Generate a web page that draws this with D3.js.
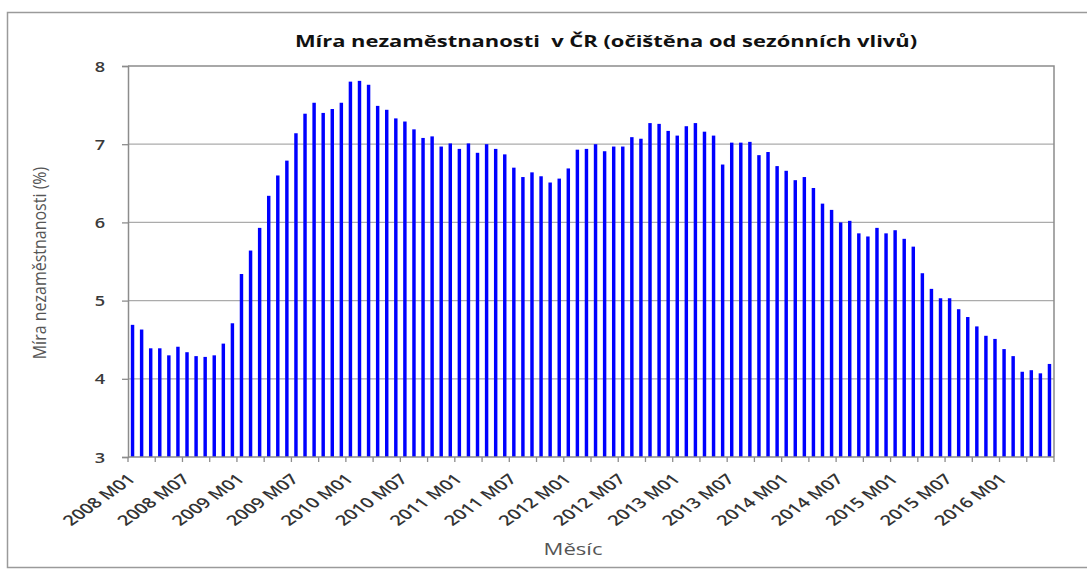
<!DOCTYPE html>
<html>
<head>
<meta charset="utf-8">
<script src="https://cdn.jsdelivr.net/npm/d3@7"></script>
<style>
  html, body { margin: 0; padding: 0; background: #fff; }
  svg { display: block; }
</style>
</head>
<body>
<svg id="chart" width="1087" height="570"></svg>
<script>
// ---- Data ----
const startYear = 2008;
const v2008 = [4.69, 4.63, 4.39, 4.39, 4.30, 4.41, 4.34, 4.29, 4.28, 4.30, 4.45, 4.71];
const v2009 = [5.34, 5.64, 5.93, 6.34, 6.60, 6.79, 7.14, 7.39, 7.53, 7.40, 7.45, 7.53];
const v2010 = [7.80, 7.81, 7.76, 7.49, 7.44, 7.33, 7.29, 7.19, 7.08, 7.10, 6.97, 7.01];
const v2011 = [6.94, 7.01, 6.89, 7.00, 6.94, 6.87, 6.70, 6.58, 6.64, 6.59, 6.51, 6.56];
const v2012 = [6.69, 6.93, 6.94, 7.00, 6.91, 6.97, 6.97, 7.09, 7.07, 7.27, 7.26, 7.17];
const v2013 = [7.11, 7.23, 7.27, 7.16, 7.11, 6.74, 7.02, 7.02, 7.03, 6.86, 6.90, 6.72];
const v2014 = [6.66, 6.54, 6.58, 6.44, 6.24, 6.16, 6.00, 6.02, 5.86, 5.82, 5.93, 5.86];
const v2015 = [5.90, 5.79, 5.69, 5.35, 5.15, 5.03, 5.03, 4.89, 4.79, 4.67, 4.55, 4.51];
const v2016 = [4.38, 4.29, 4.09, 4.11, 4.07, 4.19];
const yearValues = [v2008, v2009, v2010, v2011, v2012, v2013, v2014, v2015, v2016];

const tickLabels = ["2008 M01","2008 M07","2009 M01","2009 M07","2010 M01","2010 M07",
  "2011 M01","2011 M07","2012 M01","2012 M07","2013 M01","2013 M07","2014 M01",
  "2014 M07","2015 M01","2015 M07","2016 M01"];
const yTicks = [3, 4, 5, 6, 7, 8];
const yDomain = [3, 8];

const titleText = "Míra nezaměstnanosti  v ČR (očištěna od sezónních vlivů)";
const yTitleText = "Míra nezaměstnanosti (%)";
const xTitleText = "Měsíc";

// category labels "YYYY Mmm" for every month with a value
const data = [];
yearValues.forEach((arr, yi) => {
  arr.forEach((v, mi) => {
    const m = String(mi + 1).padStart(2, "0");
    data.push({ cat: (startYear + yi) + " M" + m, value: v });
  });
});
const categories = data.map(d => d.cat);

// ---- Layout ----
const svg = d3.select("#chart");
const plot = { left: 128, right: 1054, top: 66, bottom: 457 };
const SX = 1.3; // horizontal stretch seen in the reference text
const FONT = "'Open Sans', sans-serif";

// outer chart frame
svg.append("rect")
  .attr("x", 7.5).attr("y", 12.5).attr("width", 1100).attr("height", 555)
  .attr("fill", "#fff").attr("stroke", "#9a9a9a").attr("stroke-width", 1.5);

const x = d3.scaleBand().domain(categories).range([plot.left, plot.right]).paddingInner(0.62).paddingOuter(0.31);
const xb = d3.scaleBand().domain(categories).range([plot.left, plot.right]).padding(0);
const y = d3.scaleLinear().domain(yDomain).range([plot.bottom, plot.top]);

// gridlines
svg.append("g").selectAll("line").data(yTicks.filter(t => t > yDomain[0] && t < yDomain[1]))
  .join("line")
  .attr("x1", plot.left).attr("x2", plot.right)
  .attr("y1", d => y(d)).attr("y2", d => y(d))
  .attr("stroke", "#ababab").attr("stroke-width", 1.3);

// plot area border (top & right)
svg.append("path")
  .attr("d", `M${plot.left},${y(yDomain[1])}H${plot.right}V${plot.bottom}`)
  .attr("fill", "none").attr("stroke", "#8c8c8c").attr("stroke-width", 1.5);

// bars
svg.append("g").selectAll("rect").data(data).join("rect")
  .attr("x", d => x(d.cat))
  .attr("width", x.bandwidth())
  .attr("y", d => y(d.value))
  .attr("height", d => y(yDomain[0]) - y(d.value))
  .attr("fill", "#0000ff");

// y axis
const yAxis = svg.append("g").attr("transform", `translate(${plot.left},0)`)
  .call(d3.axisLeft(y).tickValues(yTicks).tickSize(6).tickPadding(0).tickFormat(d3.format("d")));
yAxis.select(".domain").attr("stroke", "#8c8c8c").attr("stroke-width", 1.5);
yAxis.selectAll(".tick line").attr("stroke", "#8c8c8c").attr("stroke-width", 1.3);
yAxis.selectAll(".tick text")
  .attr("x", null).attr("dy", null)
  .attr("text-anchor", "middle")
  .attr("transform", `translate(-28,5) scale(${SX},1)`)
  .attr("font-family", FONT).attr("font-weight", 600)
  .attr("font-size", 14).attr("fill", "#3a3a3a");

// x axis: ticks every 3 months on band boundaries, labels every 6 months
const boundaryTicks = categories.filter((c, i) => i % 3 === 0);
const xAxisG = svg.append("g").attr("transform", `translate(0,${plot.bottom})`);
xAxisG.append("line")
  .attr("x1", plot.left).attr("x2", plot.right).attr("y1", 0).attr("y2", 0)
  .attr("stroke", "#8c8c8c").attr("stroke-width", 1.5);
xAxisG.selectAll("line.tk").data(boundaryTicks.concat([null])).join("line")
  .attr("class", "tk")
  .attr("x1", d => d === null ? plot.right : xb(d)).attr("x2", d => d === null ? plot.right : xb(d))
  .attr("y1", 0).attr("y2", 5)
  .attr("stroke", "#8c8c8c").attr("stroke-width", 1.3);
xAxisG.selectAll("text").data(tickLabels).join("text")
  .attr("text-anchor", "end")
  .attr("transform", d => `translate(${xb(d) + xb.bandwidth() / 2 + 4},${23}) scale(1.4,1) rotate(-45)`)
  .attr("font-family", FONT).attr("font-weight", 600)
  .attr("font-size", 14.3).attr("fill", "#333")
  .text(d => d);

// title
svg.append("text")
  .attr("text-anchor", "middle")
  .attr("xml:space", "preserve").style("white-space", "pre")
  .attr("transform", `translate(606,47) scale(1.37,1)`)
  .attr("font-family", FONT).attr("font-weight", 700)
  .attr("font-size", 16).attr("fill", "#111")
  .text(titleText);

// axis titles
svg.append("text")
  .attr("text-anchor", "middle")
  .attr("transform", `translate(46,263) scale(1.15,1) rotate(-90)`)
  .attr("font-family", FONT)
  .attr("font-size", 16).attr("fill", "#555")
  .text(yTitleText);

svg.append("text")
  .attr("text-anchor", "middle")
  .attr("transform", `translate(573,555) scale(${SX},1)`)
  .attr("font-family", FONT)
  .attr("font-size", 17).attr("fill", "#555")
  .text(xTitleText);
</script>
</body>
</html>
